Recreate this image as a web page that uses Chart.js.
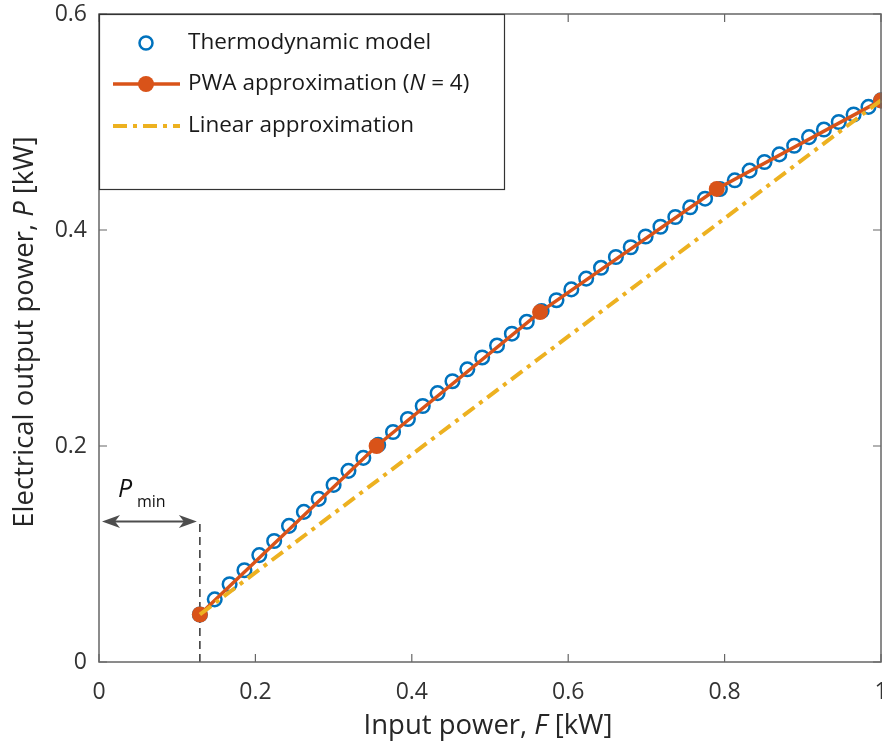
<!DOCTYPE html>
<html lang="en">
<head>
<meta charset="UTF-8">
<title>PWA approximation</title>
<script src="https://cdn.jsdelivr.net/npm/chart.js"></script>
<style>
  html, body { margin: 0; padding: 0; background: #fff; overflow: hidden; }
  .wrap { position: relative; width: 910px; height: 745px; }
</style>
</head>
<body>
<div class="wrap"><canvas id="grafico"></canvas></div>
<script>
// thermodynamic model (open circles)
const modelF = [0.129, 0.148, 0.167, 0.186, 0.205, 0.224, 0.243, 0.262, 0.281, 0.300,
                0.319, 0.338, 0.357, 0.376, 0.395, 0.414, 0.433, 0.452, 0.471, 0.490,
                0.509, 0.528, 0.547, 0.566, 0.585, 0.604, 0.623, 0.642, 0.661, 0.680,
                0.699, 0.718, 0.737, 0.756, 0.775, 0.794, 0.813, 0.832, 0.851, 0.870,
                0.889, 0.908, 0.927, 0.946, 0.965, 0.984, 1.000];
const modelP = [0.044, 0.058, 0.072, 0.085, 0.099, 0.112, 0.126, 0.139, 0.151, 0.164,
                0.177, 0.189, 0.201, 0.213, 0.225, 0.237, 0.249, 0.260, 0.271, 0.282,
                0.293, 0.304, 0.315, 0.325, 0.335, 0.345, 0.355, 0.365, 0.375, 0.384,
                0.394, 0.403, 0.412, 0.421, 0.429, 0.438, 0.446, 0.455, 0.463, 0.470,
                0.478, 0.486, 0.493, 0.500, 0.507, 0.514, 0.520];

// PWA breakpoints (N = 4)
const pwaF = [0.129, 0.355, 0.564, 0.790, 1.000];
const pwaP = [0.044, 0.200, 0.324, 0.438, 0.520];

// linear approximation
const linF = [0.129, 1.000];
const linP = [0.044, 0.520];

// P_min marker
const pminF = 0.129;
const pminP = 0.130;

const xTicks = [0, 0.2, 0.4, 0.6, 0.8, 1];
const yTicks = [0, 0.2, 0.4, 0.6];

const AZUL = '#0072BD', LARANJA = '#D95319', AMARELO = '#EDB120';
const FONTE = '"Open Sans", "Noto Sans", sans-serif';

function pares(xs, ys) {
    return xs.map((x, i) => ({ x: x, y: ys[i] }));
}

// draws text made of normal / italic pieces
function textoMisto(ctx, partes, x, y, tam, alinhar) {
    let total = 0;
    partes.forEach(p => {
        ctx.font = (p[1] ? 'italic ' : '') + tam + 'px ' + FONTE;
        total += ctx.measureText(p[0]).width;
    });
    let cx = alinhar === 'center' ? x - total / 2 : x;
    ctx.textAlign = 'left';
    ctx.textBaseline = 'middle';
    partes.forEach(p => {
        ctx.font = (p[1] ? 'italic ' : '') + tam + 'px ' + FONTE;
        ctx.fillText(p[0], cx, y);
        cx += ctx.measureText(p[0]).width;
    });
}

function seta(ctx, x, y, dir) {
    ctx.beginPath();
    ctx.moveTo(x, y);
    ctx.lineTo(x - dir * 18, y - 6.5);
    ctx.lineTo(x - dir * 13, y);
    ctx.lineTo(x - dir * 18, y + 6.5);
    ctx.closePath();
    ctx.fill();
}

const extras = {
    id: 'extras',
    afterDatasetsDraw(chart) {
        const ctx = chart.ctx;
        const a = chart.chartArea;
        const sx = chart.scales.x, sy = chart.scales.y;
        ctx.save();

        // box + inward ticks (MATLAB style)
        ctx.strokeStyle = '#666';
        ctx.lineWidth = 1.5;
        ctx.strokeRect(a.left, a.top, a.right - a.left, a.bottom - a.top);
        ctx.lineWidth = 1.2;
        ctx.beginPath();
        xTicks.forEach(v => {
            const px = sx.getPixelForValue(v);
            ctx.moveTo(px, a.bottom); ctx.lineTo(px, a.bottom - 8);
            ctx.moveTo(px, a.top); ctx.lineTo(px, a.top + 8);
        });
        yTicks.forEach(v => {
            const py = sy.getPixelForValue(v);
            ctx.moveTo(a.left, py); ctx.lineTo(a.left + 8, py);
            ctx.moveTo(a.right, py); ctx.lineTo(a.right - 8, py);
        });
        ctx.stroke();

        // P_min arrow
        const x0 = sx.getPixelForValue(0), x1 = sx.getPixelForValue(pminF);
        const ya = sy.getPixelForValue(pminP);
        ctx.strokeStyle = '#4d4d4d';
        ctx.fillStyle = '#4d4d4d';
        ctx.lineWidth = 2;
        ctx.beginPath();
        ctx.moveTo(x0 + 8, ya); ctx.lineTo(x1 - 8, ya);
        ctx.stroke();
        seta(ctx, x0 + 3, ya, -1);
        seta(ctx, x1 - 3, ya, 1);
        ctx.fillStyle = '#111';
        textoMisto(ctx, [['P', true]], 118, 490, 25, 'left');
        textoMisto(ctx, [['min', false]], 137, 502, 16, 'left');

        ctx.restore();
    },
    afterDraw(chart) {
        const ctx = chart.ctx;
        ctx.save();

        // legend
        const lx = 99, ly = 14, lw = 405, lh = 175;
        ctx.fillStyle = '#fff';
        ctx.fillRect(lx, ly, lw, lh);
        ctx.strokeStyle = '#333';
        ctx.lineWidth = 1.2;
        ctx.strokeRect(lx + 0.5, ly + 0.5, lw, lh);

        const linhas = [43, 84, 126];
        ctx.strokeStyle = AZUL;
        ctx.lineWidth = 2.5;
        ctx.beginPath();
        ctx.arc(146, linhas[0], 6.5, 0, Math.PI * 2);
        ctx.stroke();

        ctx.strokeStyle = LARANJA;
        ctx.lineWidth = 3.5;
        ctx.beginPath();
        ctx.moveTo(113, linhas[1]); ctx.lineTo(180, linhas[1]);
        ctx.stroke();
        ctx.fillStyle = LARANJA;
        ctx.beginPath();
        ctx.arc(146, linhas[1], 8, 0, Math.PI * 2);
        ctx.fill();

        ctx.strokeStyle = AMARELO;
        ctx.lineWidth = 4;
        ctx.setLineDash([14, 6, 4, 6]);
        ctx.beginPath();
        ctx.moveTo(113, linhas[2]); ctx.lineTo(180, linhas[2]);
        ctx.stroke();
        ctx.setLineDash([]);

        ctx.fillStyle = '#1a1a1a';
        textoMisto(ctx, [['Thermodynamic model', false]], 188, linhas[0], 22.5, 'left');
        textoMisto(ctx, [['PWA approximation (', false], ['N', true], [' = 4)', false]], 188, linhas[1], 22.5, 'left');
        textoMisto(ctx, [['Linear approximation', false]], 188, linhas[2], 22.5, 'left');

        // axis titles
        ctx.fillStyle = '#262626';
        textoMisto(ctx, [['Input power, ', false], ['F', true], [' [kW]', false]], 488, 726, 27.5, 'center');
        ctx.translate(25, 332);
        ctx.rotate(-Math.PI / 2);
        textoMisto(ctx, [['Electrical output power, ', false], ['P', true], [' [kW]', false]], 0, 0, 27.5, 'center');

        ctx.restore();
    }
};

new Chart(document.getElementById('grafico'), {
    type: 'scatter',
    data: {
        datasets: [
            {
                label: 'Linear approximation',
                data: pares(linF, linP),
                showLine: true,
                borderColor: AMARELO,
                borderWidth: 4,
                borderDash: [14, 6, 4, 6],
                pointRadius: 0,
                order: 0
            },
            {
                label: 'PWA approximation (N = 4)',
                data: pares(pwaF, pwaP),
                showLine: true,
                borderColor: LARANJA,
                borderWidth: 3.5,
                pointRadius: 8,
                pointBackgroundColor: LARANJA,
                pointBorderWidth: 0,
                order: 1
            },
            {
                label: 'Thermodynamic model',
                data: pares(modelF, modelP),
                showLine: false,
                pointRadius: 6.8,
                pointBorderWidth: 2.5,
                pointBorderColor: AZUL,
                pointBackgroundColor: 'rgba(0,0,0,0)',
                order: 2
            },
            {
                label: 'Pmin',
                data: [{ x: pminF, y: 0 }, { x: pminF, y: pminP }],
                showLine: true,
                borderColor: '#333',
                borderWidth: 1.5,
                borderDash: [8, 5],
                pointRadius: 0,
                order: 3
            }
        ]
    },
    options: {
        responsive: true,
        maintainAspectRatio: false,
        animation: false,
        clip: false,
        layout: { padding: { left: 0, top: 14, right: 29, bottom: 0 } },
        plugins: {
            legend: { display: false },
            tooltip: { enabled: false }
        },
        scales: {
            x: {
                type: 'linear',
                min: 0, max: 1,
                afterBuildTicks: s => { s.ticks = xTicks.map(v => ({ value: v })); },
                afterFit: s => { s.height = 83; s.paddingLeft = 0; s.paddingRight = 0; },
                grid: { display: false, drawTicks: false },
                border: { display: false },
                ticks: { color: '#333', padding: 17, font: { family: FONTE, size: 23 }, maxRotation: 0,
                         callback: v => String(v) }
            },
            y: {
                type: 'linear',
                min: 0, max: 0.6,
                afterBuildTicks: s => { s.ticks = yTicks.map(v => ({ value: v })); },
                afterFit: s => { s.width = 99; s.paddingTop = 0; s.paddingBottom = 0; },
                grid: { display: false, drawTicks: false },
                border: { display: false },
                ticks: { color: '#333', padding: 12, font: { family: FONTE, size: 23 },
                         callback: v => String(v) }
            }
        }
    },
    plugins: [extras]
});
</script>
</body>
</html>
